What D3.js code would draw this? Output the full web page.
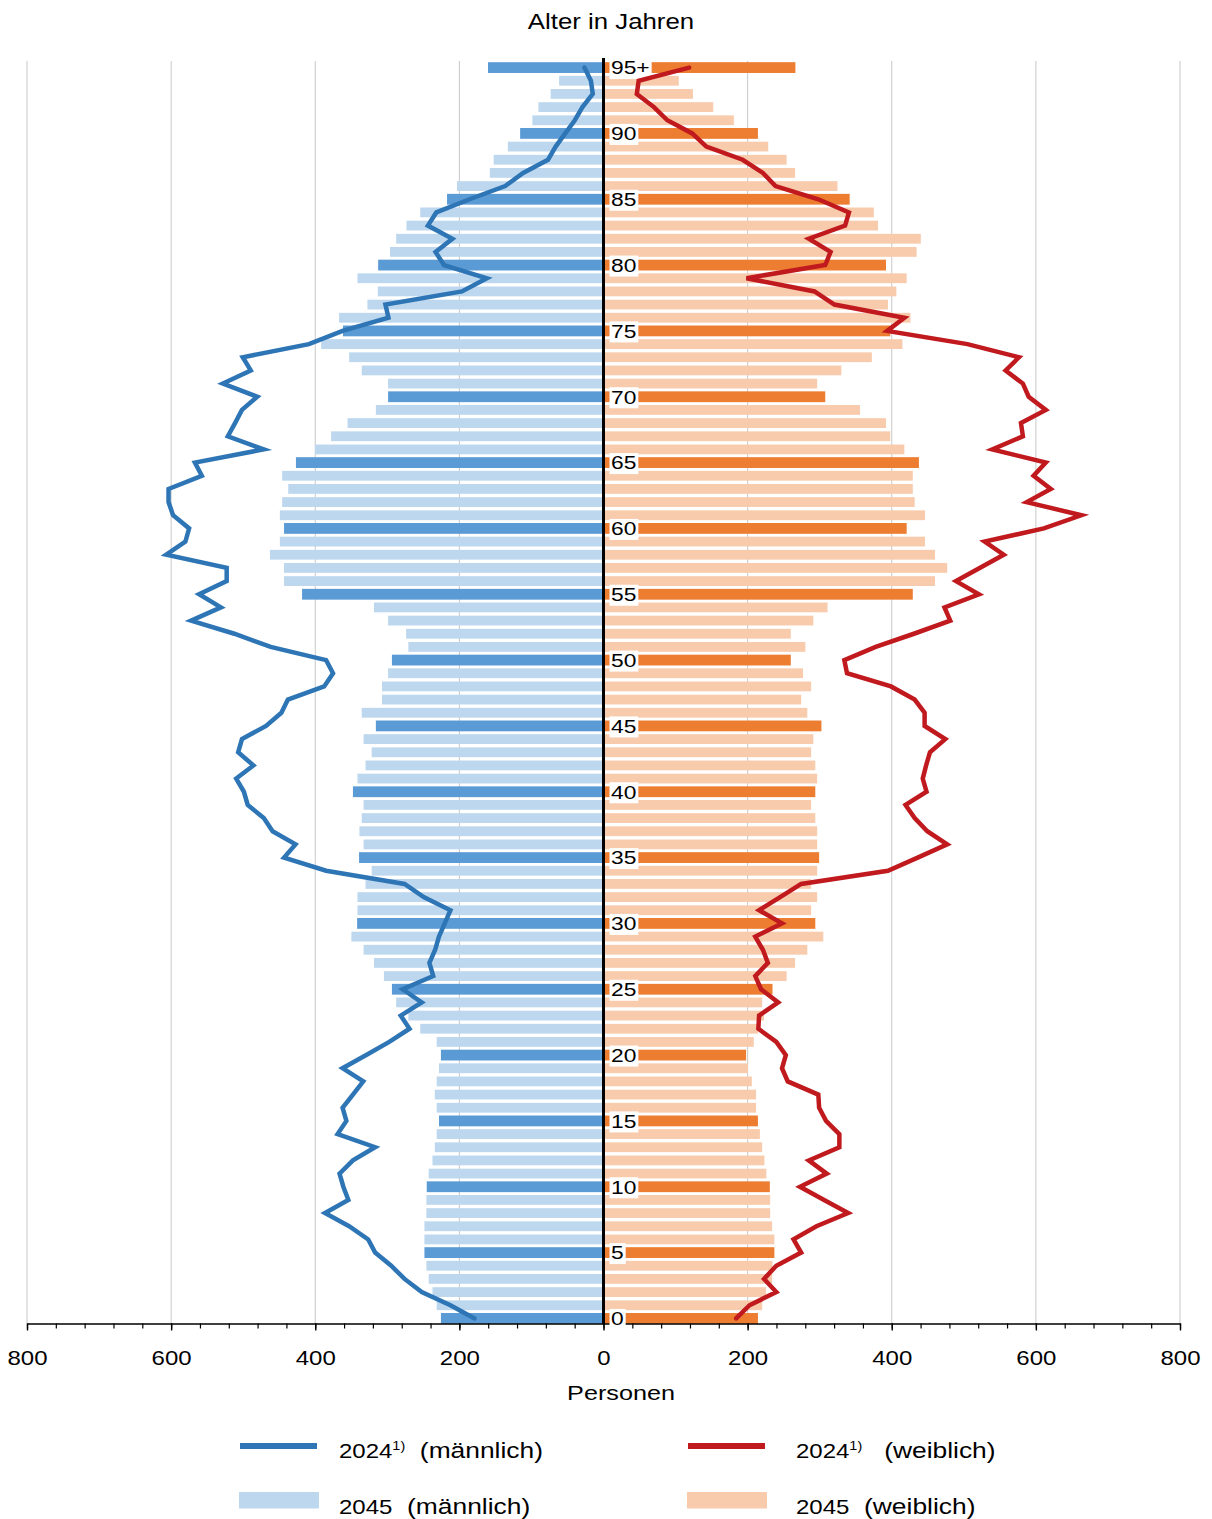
<!DOCTYPE html>
<html>
<head>
<meta charset="utf-8">
<script src="https://cdn.jsdelivr.net/npm/d3@7/dist/d3.min.js"></script>
<style>
  body { margin: 0; background: #fff; }
  text { font-family: "Liberation Sans", Arial, sans-serif; fill: #000; }
</style>
</head>
<body>
<div id="chart"></div>
<script>
/* DATA (ages 0 .. 95+, persons) */
const ages = d3.range(0, 96);

const male2045 = [
  225.6, 231.5, 237.3, 242.6, 245.8, 248.5, 248.5, 248.5, 245.8, 245.8,
  245.3, 242.6, 237.3, 234.1, 231.5, 228.3, 231.5, 234.1, 231.5, 228.3,
  225.6, 231.5, 254.3, 270.8, 287.7, 293.6, 304.7, 318.5, 332.9, 349.9,
  341.9, 341.4, 341.4, 330.2, 321.7, 339.2, 332.9, 338.7, 335.5, 332.9,
  347.7, 341.4, 330.2, 321.7, 332.9, 315.9, 335.5, 307.4, 307.4, 298.9,
  293.6, 270.8, 273.9, 298.9, 318.5, 418.3, 443.3, 443.3, 462.9, 449.1,
  443.3, 449.1, 445.9, 437.5, 445.9, 426.8, 400.3, 378.0, 355.2, 315.9,
  298.9, 298.9, 335.5, 353.0, 391.8, 361.5, 366.9, 327.6, 313.2, 341.4,
  312.7, 296.2, 287.7, 273.4, 254.3, 217.1, 203.3, 157.7, 152.4, 132.7,
  115.7, 98.7, 90.3, 73.3, 61.6, 160.3
];

const female2045 = [
  214.3, 220.2, 225.5, 234.0, 234.5, 237.1, 237.1, 234.0, 231.3, 231.3,
  230.8, 226.0, 223.3, 220.2, 217.0, 214.3, 211.7, 211.7, 205.8, 200.5,
  197.9, 208.5, 214.3, 222.8, 220.2, 234.5, 254.1, 265.8, 282.8, 305.0,
  293.9, 288.1, 296.5, 288.1, 296.5, 299.2, 296.5, 296.5, 293.9, 288.1,
  293.9, 296.5, 293.9, 288.1, 291.2, 302.4, 282.8, 274.3, 288.1, 276.9,
  259.9, 280.1, 259.9, 291.2, 310.9, 429.2, 460.0, 476.9, 460.0, 446.2,
  420.7, 446.2, 431.8, 429.2, 429.2, 437.7, 417.5, 397.9, 392.0, 356.0,
  307.7, 296.5, 330.0, 372.4, 414.8, 397.9, 426.0, 394.7, 406.4, 420.7,
  392.0, 434.5, 440.3, 380.9, 375.1, 341.6, 324.7, 265.8, 254.1, 228.6,
  214.3, 180.9, 152.3, 124.1, 104.5, 266.3
];

const male2024 = [
  178.9, 212.4, 252.2, 276.1, 294.6, 316.9, 326.5, 353.0, 386.5, 354.1,
  361.0, 366.3, 347.7, 316.9, 369.0, 356.8, 362.1, 347.7, 333.4, 362.1,
  329.2, 297.3, 269.2, 281.4, 252.2, 278.7, 236.3, 241.6, 233.6, 228.3,
  220.3, 212.4, 249.5, 276.1, 384.9, 443.3, 427.4, 459.2, 471.4, 493.7,
  499.0, 509.7, 485.8, 507.0, 501.7, 468.3, 447.0, 438.0, 387.6, 375.3,
  384.9, 461.9, 512.3, 572.3, 530.9, 561.2, 522.9, 522.9, 606.8, 580.2,
  575.0, 597.3, 603.6, 603.6, 557.4, 567.0, 471.4, 521.3, 511.3, 501.7,
  480.5, 528.2, 489.5, 500.6, 408.8, 362.1, 298.4, 302.6, 196.4, 161.9,
  221.4, 233.1, 209.7, 243.7, 232.0, 185.8, 136.4, 111.5, 77.0, 66.4,
  53.1, 39.8, 29.2, 14.9, 17.5, 26.5
];

const female2024 = [
  184.1, 202.6, 239.8, 222.8, 239.8, 274.3, 263.7, 295.5, 339.5, 306.1,
  272.7, 309.8, 284.9, 327.3, 327.3, 308.8, 299.2, 298.1, 255.7, 247.7,
  253.0, 239.8, 214.9, 215.9, 242.4, 218.6, 210.6, 228.1, 221.2, 210.6,
  247.7, 215.9, 245.1, 274.3, 394.7, 436.0, 476.9, 449.3, 431.8, 419.1,
  448.3, 443.0, 447.7, 453.0, 474.3, 445.6, 445.6, 431.8, 398.9, 337.9,
  334.2, 377.7, 430.8, 481.2, 473.2, 521.0, 489.1, 522.0, 555.4, 528.9,
  611.1, 663.1, 587.3, 620.7, 596.8, 613.8, 539.5, 582.0, 579.3, 613.8,
  590.0, 582.0, 558.0, 576.6, 505.0, 393.6, 417.5, 320.4, 292.8, 198.4,
  307.7, 315.1, 284.9, 335.3, 340.6, 298.1, 238.7, 221.2, 193.1, 142.7,
  123.1, 88.6, 70.0, 46.2, 48.8, 118.8
];

const labelAges = d3.range(0, 96, 5);
const axisTicks = d3.range(-800, 801, 200);
const minorTicks = d3.range(-800, 801, 40);

const legendItems = [
  { year: "2024", sup: "1)", rest: "  (m\u00e4nnlich)", kind: "line", color: "#2e75b6", col: 0, row: 0 },
  { year: "2024", sup: "1)", rest: "   (weiblich)", kind: "line", color: "#c0191e", col: 1, row: 0 },
  { year: "2045", sup: "", rest: "  (m\u00e4nnlich)", kind: "box", color: "#bdd7ee", col: 0, row: 1 },
  { year: "2045", sup: "", rest: "  (weiblich)", kind: "box", color: "#f8cbad", col: 1, row: 1 }
];

/* CONSTANTS */
const width = 1212, height = 1519;
const center = 603.5, plotLeft = 27, plotRight = 1180;
const plotTop = 61, plotBottom = 1323.5;
const stretch = 1.2;   // text in the original is drawn a bit wide

const colors = {
  maleDark: "#5b9bd5", maleLight: "#bdd7ee",
  femaleDark: "#ed7d31", femaleLight: "#f8cbad",
  maleLine: "#2e75b6", femaleLine: "#c0191e"
};

const svg = d3.select("#chart").append("svg")
  .attr("width", width)
  .attr("height", height);

/* SCALES */
const xL = d3.scaleLinear().domain([0, 800]).range([center, plotLeft]);
const xR = d3.scaleLinear().domain([0, 800]).range([center, plotRight]);
const xAxisScale = d3.scaleLinear().domain([-800, 800]).range([plotLeft, plotRight]);

const y = d3.scaleBand()
  .domain(ages.slice().reverse())
  .range([plotTop, plotBottom + 1.5])
  .paddingInner(0.18)
  .paddingOuter(0.09);
const bw = y.bandwidth();
const yc = a => y(a) + bw / 2;

// helper for wide text
function wideText(sel, x, yy, str, size, anchor) {
  return sel.append("text")
    .attr("transform", `translate(${x},${yy}) scale(${stretch},1)`)
    .attr("text-anchor", anchor || "start")
    .style("font-size", size + "px")
    .text(str);
}

/* GRIDLINES */
svg.append("g")
  .selectAll("line")
  .data(axisTicks.filter(d => d !== 0))
  .join("line")
  .attr("x1", d => xAxisScale(d))
  .attr("x2", d => xAxisScale(d))
  .attr("y1", plotTop)
  .attr("y2", plotBottom)
  .attr("stroke", "#c8c8c8")
  .attr("stroke-width", 1);

/* BARS 2045 */
const isDark = a => a % 5 === 0;

svg.append("g")
  .selectAll("rect")
  .data(ages)
  .join("rect")
  .attr("x", a => xL(male2045[a]))
  .attr("y", a => isDark(a) ? y(a) : y(a) + 0.5)
  .attr("width", a => xL(0) - xL(male2045[a]))
  .attr("height", a => isDark(a) ? bw : bw - 1)
  .attr("fill", a => isDark(a) ? colors.maleDark : colors.maleLight);

svg.append("g")
  .selectAll("rect")
  .data(ages)
  .join("rect")
  .attr("x", xR(0))
  .attr("y", a => isDark(a) ? y(a) : y(a) + 0.5)
  .attr("width", a => xR(female2045[a]) - xR(0))
  .attr("height", a => isDark(a) ? bw : bw - 1)
  .attr("fill", a => isDark(a) ? colors.femaleDark : colors.femaleLight);

/* X AXIS */
const axisG = svg.append("g").attr("transform", `translate(0,${plotBottom})`);

axisG.append("g")
  .call(d3.axisBottom(xAxisScale).tickValues(minorTicks).tickSize(5).tickSizeOuter(0).tickFormat(""))
  .call(g => g.select(".domain").remove())
  .call(g => g.selectAll("line").attr("stroke", "#000").attr("stroke-width", 1.2));

axisG.append("g")
  .call(d3.axisBottom(xAxisScale).tickValues(axisTicks).tickSize(7).tickSizeOuter(0).tickPadding(20)
    .tickFormat(d => Math.abs(d)))
  .call(g => g.select(".domain").attr("stroke", "#000").attr("stroke-width", 1.4))
  .call(g => g.selectAll("line").attr("stroke", "#000").attr("stroke-width", 1.4))
  .call(g => g.selectAll("text")
    .attr("fill", "#000")
    .style("font-size", "20px")
    .style("font-family", "'Liberation Sans', Arial, sans-serif")
    .attr("transform", `scale(${stretch},1)`));

/* CENTER AXIS LINE */
svg.append("line")
  .attr("x1", center).attr("x2", center)
  .attr("y1", plotTop - 3).attr("y2", plotBottom + 1)
  .attr("stroke", "#000")
  .attr("stroke-width", 3);

/* AGE LABELS */
const labelG = svg.append("g");
labelAges.forEach(a => {
  const g = labelG.append("g");
  const box = g.append("rect");
  const t = wideText(g, 611, yc(a) + 6.8, a === 95 ? "95+" : String(a), 19);
  const w = t.node().getComputedTextLength() * stretch;
  box.attr("x", 609.5)
    .attr("y", yc(a) - 9.5)
    .attr("width", w + 3.5)
    .attr("height", 21)
    .attr("fill", "#fff");
});

/* LINES 2024 */
const maleLine = d3.line()
  .x(a => xL(male2024[a]))
  .y(a => yc(a));

const femaleLine = d3.line()
  .x(a => xR(female2024[a]))
  .y(a => yc(a));

svg.append("path")
  .datum(ages)
  .attr("d", maleLine)
  .attr("fill", "none")
  .attr("stroke", colors.maleLine)
  .attr("stroke-width", 4.5)
  .attr("stroke-linejoin", "miter")
  .attr("stroke-miterlimit", 4)
  .attr("stroke-linecap", "round");

svg.append("path")
  .datum(ages)
  .attr("d", femaleLine)
  .attr("fill", "none")
  .attr("stroke", colors.femaleLine)
  .attr("stroke-width", 4.5)
  .attr("stroke-linejoin", "miter")
  .attr("stroke-miterlimit", 4)
  .attr("stroke-linecap", "round");

/* TITLES */
wideText(svg, 611, 29, "Alter in Jahren", 21.5, "middle");
wideText(svg, 621, 1400, "Personen", 21, "middle");

/* LEGEND */
const legCols = [{ sx: 240, tx: 339 }, { sx: 688, tx: 796 }];
const legRows = [1446, 1500];

legendItems.forEach(d => {
  const c = legCols[d.col], ry = legRows[d.row];
  if (d.kind === "line") {
    svg.append("line")
      .attr("x1", c.sx).attr("x2", c.sx + 77)
      .attr("y1", ry).attr("y2", ry)
      .attr("stroke", d.color)
      .attr("stroke-width", 6);
  } else {
    svg.append("rect")
      .attr("x", c.sx - 1).attr("y", ry - 8)
      .attr("width", 80).attr("height", 16.5)
      .attr("fill", d.color);
  }
  const t = svg.append("text")
    .attr("transform", `translate(${c.tx},${ry + 12 + d.row * 2}) scale(${stretch},1)`)
    .style("white-space", "pre")
    .attr("xml:space", "preserve");
  t.append("tspan").style("font-size", "20px").text(d.year);
  if (d.sup) {
    t.append("tspan").attr("dy", -8).style("font-size", "12px").text(d.sup);
    t.append("tspan").attr("dy", 8).style("font-size", "22px").text(d.rest);
  } else {
    t.append("tspan").style("font-size", "22px").text(d.rest);
  }
});
</script>
</body>
</html>
